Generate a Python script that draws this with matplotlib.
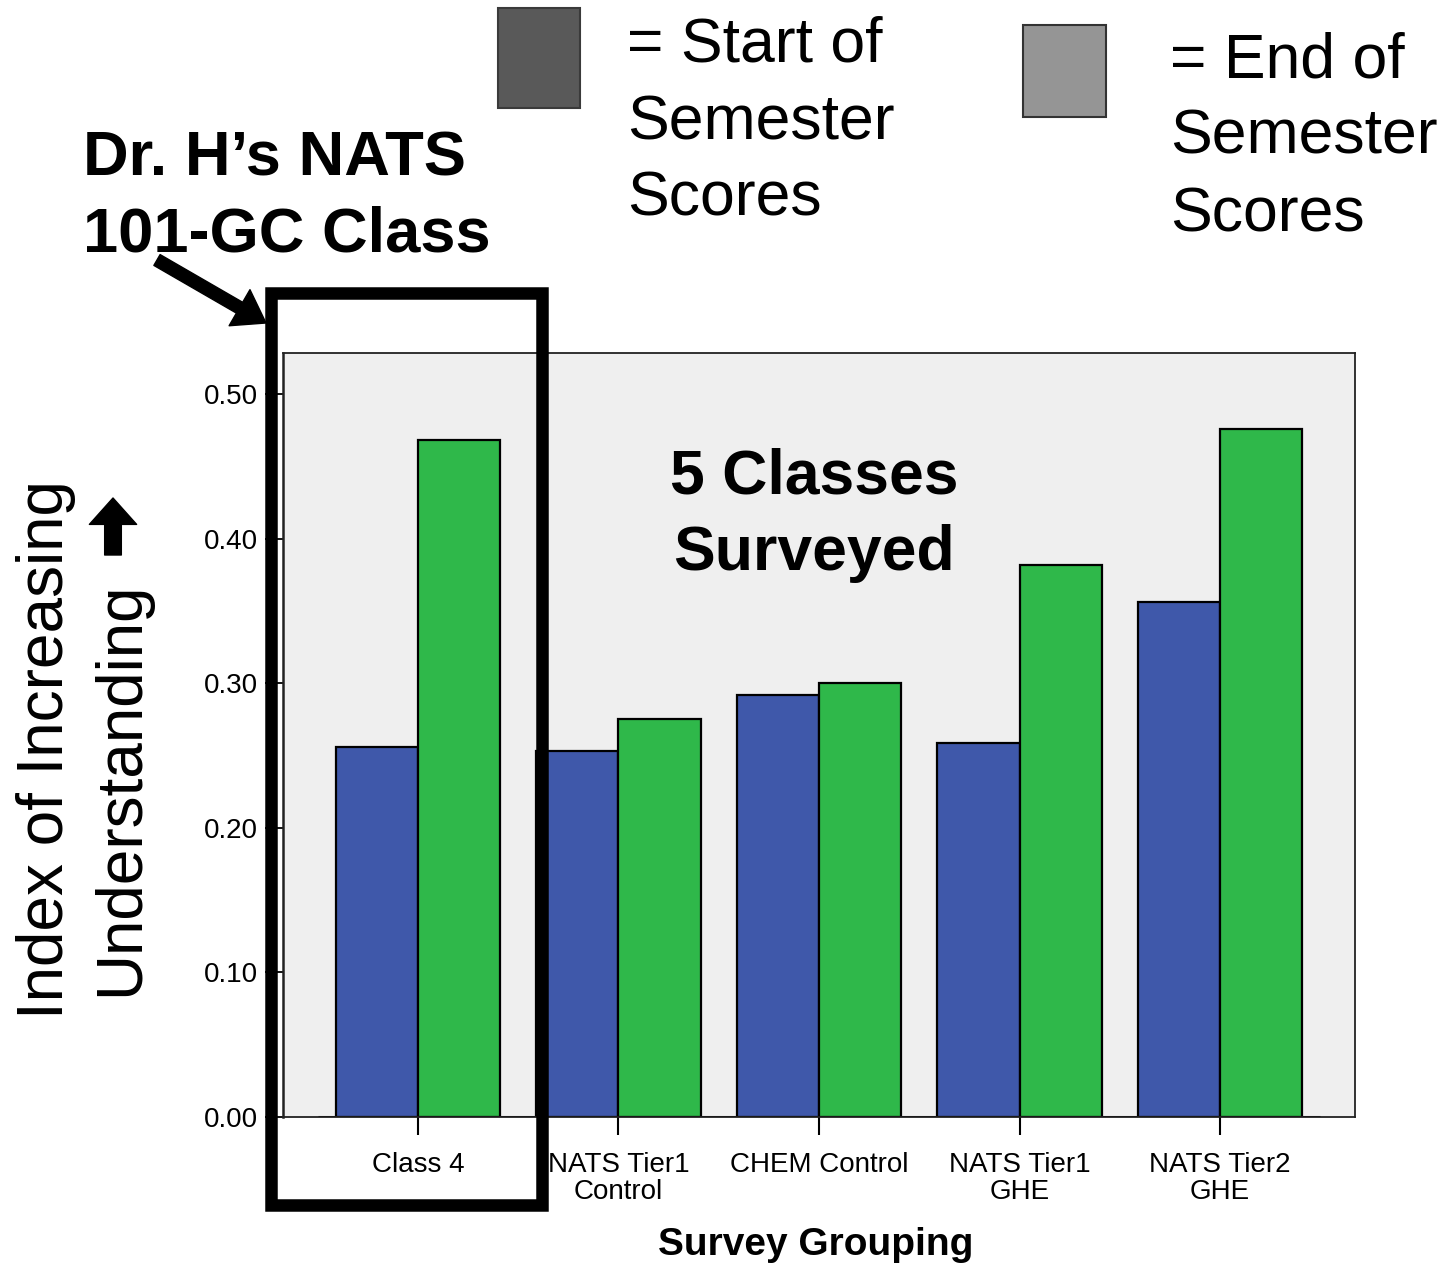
import matplotlib
matplotlib.use("Agg")
import matplotlib.pyplot as plt
from matplotlib.patches import Rectangle, FancyArrowPatch
import numpy as np

# Survey groups and mean index values (start vs. end of semester)
groups = ["Class 4", "NATS Tier1\nControl", "CHEM Control", "NATS Tier1\nGHE", "NATS Tier2\nGHE"]
start_scores = [0.256, 0.253, 0.292, 0.259, 0.356]
end_scores = [0.468, 0.275, 0.300, 0.382, 0.476]
y_ticks = [0.0, 0.1, 0.2, 0.3, 0.4, 0.5]

W, H, DPI = 1448, 1267, 100
plt.rcParams["font.family"] = ["Liberation Sans", "DejaVu Sans"]

fig = plt.figure(figsize=(W / DPI, H / DPI), dpi=DPI)


def fx(x):
    return x / W


def fy(y):
    return 1 - y / H


# Main bar chart
ax = fig.add_axes([fx(283), fy(1117), fx(1355) - fx(283), fy(353) - fy(1117)])
ax.set_facecolor("#efefef")
x = np.arange(len(groups))
w = 0.41
ax.bar(x - w / 2, start_scores, w, color="#3f58aa", edgecolor="black", linewidth=1.6, zorder=3)
ax.bar(x + w / 2, end_scores, w, color="#2fb84a", edgecolor="black", linewidth=1.6, zorder=3)
ax.hlines(0, -0.5, len(groups) - 0.5, color="#1a1a1a", lw=2.2, zorder=4)
ax.set_xlim(-0.673, len(groups) - 1 + 0.673)
ax.set_ylim(0, 0.5284)

ax.set_yticks(y_ticks)
ax.set_yticklabels([f"{v:.2f}" for v in y_ticks])
ax.set_xticks(x)
ax.set_xticklabels(groups)
for lbl in ax.get_xticklabels():
    lbl.set_linespacing(1.05)
ax.tick_params(axis="y", length=13, width=1.3, pad=5, labelsize=20, direction="out")
ax.tick_params(axis="x", length=13, width=1.5, pad=12, labelsize=20, direction="out")
for name, sp in ax.spines.items():
    sp.set_linewidth(1.3)
    sp.set_color("#222222")
ax.spines["left"].set_linewidth(1.8)

# Axis titles
fig.text(fx(816), fy(1245), "Survey Grouping", size=28, weight="bold", ha="center", va="center")
fig.text(fx(46), fy(750), "Index of Increasing", size=46, rotation=90, ha="center", va="center")
fig.text(fx(121), fy(996), "Understanding", size=46, rotation=90, ha="center", va="bottom")
fig.add_artist(FancyArrowPatch(
    posA=(fx(113), fy(555)), posB=(fx(113), fy(498)), transform=fig.transFigure,
    arrowstyle="simple,head_length=19,head_width=34,tail_width=12",
    mutation_scale=1, color="black", shrinkA=0, shrinkB=0))

# Highlight box around the featured class
fig.add_artist(Rectangle((fx(270.5), fy(1205)), fx(542) - fx(270.5), fy(293) - fy(1205),
                         transform=fig.transFigure, fill=False, lw=9, edgecolor="black",
                         joinstyle="miter", zorder=6))
fig.add_artist(FancyArrowPatch(
    posA=(fx(157), fy(260)), posB=(fx(266), fy(323)), transform=fig.transFigure,
    arrowstyle="simple,head_length=22,head_width=30,tail_width=9",
    mutation_scale=1, color="black", shrinkA=0, shrinkB=0, zorder=6))
fig.text(fx(83), fy(175), "Dr. H\u2019s NATS", size=45.5, weight="bold", va="baseline")
fig.text(fx(83), fy(251), "101-GC Class", size=45.5, weight="bold", va="baseline")

# Centre annotation
fig.text(fx(814), fy(493), "5 Classes", size=45, weight="bold", ha="center", va="baseline", zorder=5)
fig.text(fx(814), fy(570), "Surveyed", size=45, weight="bold", ha="center", va="baseline", zorder=5)

# Key swatches
fig.add_artist(Rectangle((fx(498), fy(108)), 82 / W, 100 / H, transform=fig.transFigure,
                         facecolor="#595959", edgecolor="#3a3a3a", lw=1.5))
fig.add_artist(Rectangle((fx(1023), fy(117)), 83 / W, 92 / H, transform=fig.transFigure,
                         facecolor="#959595", edgecolor="#333333", lw=1.5))
for i, line in enumerate(["= Start of", "Semester", "Scores"]):
    fig.text(fx(627), fy(62 + 77 * i), line, size=45, va="baseline")
for i, line in enumerate(["= End of", "Semester", "Scores"]):
    fig.text(fx(1170), fy(77 + 77 * i), line, size=45, va="baseline")

fig.savefig("out.png", dpi=DPI)
